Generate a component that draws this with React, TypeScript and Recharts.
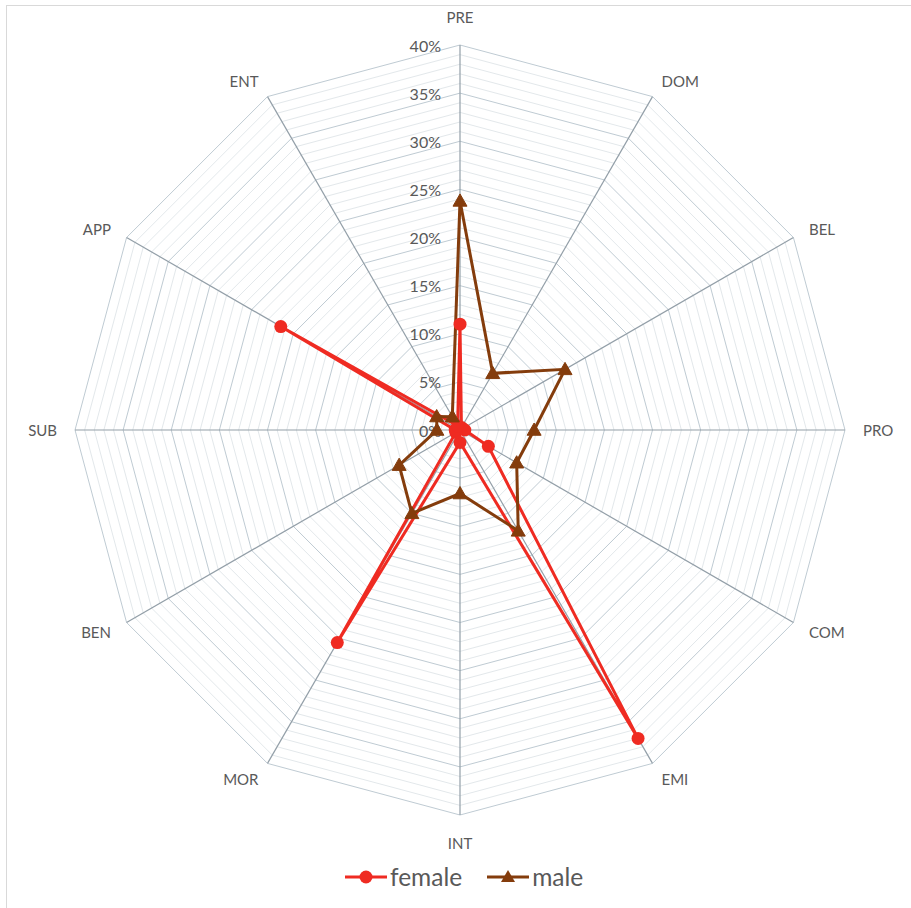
import React from 'react';
import { RadarChart, Radar, PolarGrid, PolarAngleAxis, PolarRadiusAxis, Legend } from 'recharts';

const categories = ['PRE', 'DOM', 'BEL', 'PRO', 'COM', 'EMI', 'INT', 'MOR', 'BEN', 'SUB', 'APP', 'ENT'];
const female = [11, 0.3, 0.3, 0.5, 3.4, 37, 1.3, 25.5, 0.5, 0.5, 21.5, 0.5];
const male = [23.8, 6.8, 12.6, 7.7, 6.8, 12.1, 6.6, 10, 7.3, 2.4, 2.8, 1.6];
const majorTicks = [0, 5, 10, 15, 20, 25, 30, 35, 40];
const minorTicks = [1, 2, 3, 4, 6, 7, 8, 9, 11, 12, 13, 14, 16, 17, 18, 19, 21, 22, 23, 24, 26, 27, 28, 29, 31, 32, 33, 34, 36, 37, 38, 39];

const data = categories.map((c, i) => ({ cat: c, female: female[i], male: male[i] }));

const W = 911;
const H = 908;
const CX = 460;
const CY = 430;
const R = 385;
const MAX = 40;
const FONT = 'Lato, "Open Sans", sans-serif';
const TEXT = '#595959';
const RED = '#EF2B22';
const BROWN = '#843C0C';

const toR = (v: number) => (R * v) / MAX;

const RadiusTick = (props: any) => {
  const { x, y, payload } = props;
  return (
    <text x={x - 19} y={y} textAnchor="end" dominantBaseline="central" fill={TEXT} fontSize={16} fontFamily={FONT}>
      {payload.value}%
    </text>
  );
};

const AngleTick = (props: any) => {
  const { x, y, payload } = props;
  const dx = x - CX;
  const dy = y - CY;
  const d = Math.hypot(dx, dy) || 1;
  const ux = dx / d;
  const uy = dy / d;
  const r = R + 18;
  let px = CX + ux * r;
  let py = CY + uy * r;
  let anchor: 'start' | 'end' | 'middle' = 'middle';
  if (ux > 0.1) anchor = 'start';
  else if (ux < -0.1) anchor = 'end';
  else py += uy * 10;
  return (
    <text x={px} y={py} textAnchor={anchor} dominantBaseline="central" fill={TEXT} fontSize={15} fontFamily={FONT}>
      {payload.value}
    </text>
  );
};

const CircleDot = (props: any) => {
  const { cx, cy, index } = props;
  if (cx == null || cy == null) return <g key={`c-${index}`} />;
  return <circle key={`c-${index}`} cx={cx} cy={cy} r={6.5} fill={RED} stroke="none" />;
};

const TriangleDot = (props: any) => {
  const { cx, cy, index } = props;
  if (cx == null || cy == null) return <g key={`t-${index}`} />;
  const s = 7;
  return (
    <polygon
      key={`t-${index}`}
      points={`${cx},${cy - s} ${cx + s},${cy + s * 0.75} ${cx - s},${cy + s * 0.75}`}
      fill={BROWN}
      stroke={BROWN}
      strokeWidth={1}
    />
  );
};

const renderLegend = (props: any) => {
  const { payload } = props;
  return (
    <div style={{ display: 'flex', justifyContent: 'flex-start', alignItems: 'center', fontFamily: FONT, paddingLeft: 345 }}>
      {(payload || []).map((entry: any, i: number) => {
        const isMale = entry.dataKey === 'male';
        const col = entry.color;
        return (
          <div key={i} style={{ display: 'flex', alignItems: 'center', marginRight: i === 0 ? 25 : 0 }}>
            <svg width={42} height={20} style={{ display: 'block' }}>
              <line x1={0} y1={10} x2={42} y2={10} stroke={col} strokeWidth={3} />
              {isMale ? (
                <polygon points="21,3 28,15 14,15" fill={col} />
              ) : (
                <circle cx={21} cy={10} r={6.5} fill={col} />
              )}
            </svg>
            <span style={{ fontSize: 24.5, color: TEXT, marginLeft: 3, lineHeight: '30px' }}>{entry.value}</span>
          </div>
        );
      })}
    </div>
  );
};

export default function App() {
  return (
    <div style={{ position: 'absolute', top: 0, left: 0, width: W, height: H, overflow: 'hidden', background: '#fff' }}>
      <div style={{ position: 'absolute', top: 5, left: 6, width: W, height: H, border: '1px solid #D9D9D9', boxSizing: 'border-box' }} />
      <div style={{ position: 'absolute', top: 0, left: 0 }}>
        <RadarChart width={W} height={H} data={data} cx={CX} cy={CY} outerRadius={R} margin={{ top: 0, right: 0, bottom: 0, left: 0 }}>
          <PolarGrid gridType="polygon" radialLines={false} polarRadius={minorTicks.map(toR)} stroke="#E3E8EB" strokeWidth={1} />
          <PolarGrid gridType="polygon" radialLines={false} polarRadius={majorTicks.map(toR)} stroke="#BFCBD3" strokeWidth={1} />
          <PolarGrid gridType="polygon" radialLines={true} polarRadius={[0]} stroke="#939FA8" strokeWidth={1.2} />
          <PolarAngleAxis dataKey="cat" tick={AngleTick} tickLine={false} axisLine={false} />
          <PolarRadiusAxis angle={90} domain={[0, MAX]} ticks={majorTicks} tick={RadiusTick} axisLine={false} tickLine={false} />
          <Radar
            name="female"
            dataKey="female"
            stroke={RED}
            strokeWidth={3}
            fill="none"
            fillOpacity={0}
            dot={CircleDot}
            isAnimationActive={false}
          />
          <Radar
            name="male"
            dataKey="male"
            stroke={BROWN}
            strokeWidth={3}
            fill="none"
            fillOpacity={0}
            dot={TriangleDot}
            isAnimationActive={false}
          />
          <Legend
            content={renderLegend}
            verticalAlign="bottom"
            wrapperStyle={{ position: 'absolute', top: 862, left: 0, width: W, height: 30 }}
          />
        </RadarChart>
      </div>
    </div>
  );
}
